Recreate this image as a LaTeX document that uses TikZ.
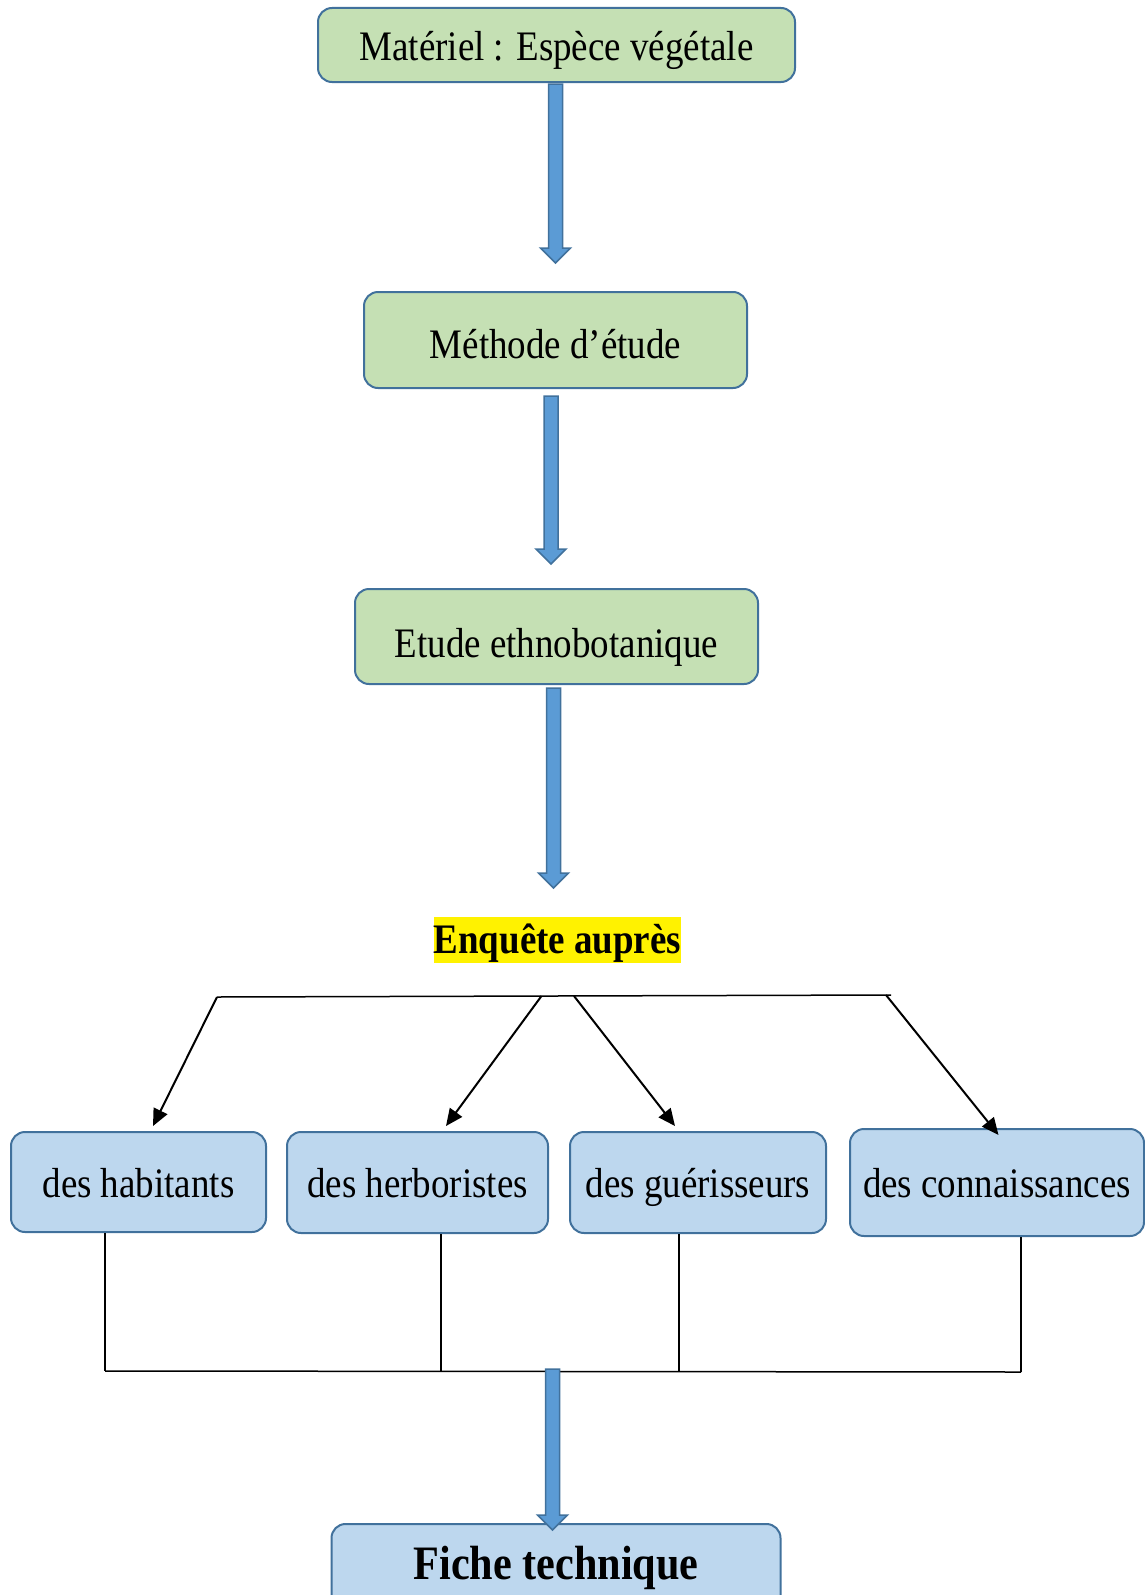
\documentclass[tikz,border=0pt]{standalone}
\usepackage{fontspec}
\setmainfont{Liberation Serif}[FakeStretch=0.88]
\usetikzlibrary{arrows.meta,calc}
\definecolor{boxgreen}{HTML}{C5E0B4}
\definecolor{boxblue}{HTML}{BDD7EE}
\definecolor{edgeblue}{HTML}{41719C}
\definecolor{arrowblue}{HTML}{5B9BD5}
\tikzset{
  box/.style={draw=edgeblue, line width=2pt, rounded corners=14pt, inner sep=0pt,
    text height=30pt, text depth=0pt, font=\fontsize{42}{50}\selectfont},
  greenbox/.style={box, fill=boxgreen},
  bluebox/.style={box, fill=boxblue},
  bigarrow/.style={fill=arrowblue, draw=edgeblue, line width=1.5pt},
  link/.style={line width=1.5pt},
  pointer/.style={line width=2pt, -{Triangle[length=17pt,width=15pt]}}
}
\newcommand{\blockarrow}[2]{%
  \path[bigarrow] let \p1=(#1), \p2=(#2) in
    (\x1-7pt,\y1) -- (\x1+7pt,\y1) -- (\x1+7pt,\y2+15pt) -- (\x1+15pt,\y2+15pt)
    -- (\x1,\y2) -- (\x1-15pt,\y2+15pt) -- (\x1-7pt,\y2+15pt) -- cycle;}
\begin{document}
\begin{tikzpicture}[x=1pt,y=-1pt]
  \clip (0,0) rectangle (1145,1595);
  \node[greenbox, minimum width=477pt, minimum height=74pt] (mat) at (556.5,45) {Matériel : Espèce végétale};
  \node[greenbox, minimum width=383pt, minimum height=96pt, text height=36pt] (meth) at (555.5,340) {Méthode d’étude};
  \node[greenbox, minimum width=403pt, minimum height=95pt, text height=41pt] (ethno) at (556.5,636.5) {Etude ethnobotanique};
  \node[fill=yellow, inner sep=0pt, text height=36pt, text depth=10pt,
    font=\fontsize{42}{50}\selectfont\bfseries] (enq) at (557.5,940) {Enquête auprès};

  \node[bluebox, minimum width=255pt, minimum height=100pt] (hab) at (138.5,1182) {des habitants};
  \node[bluebox, minimum width=261pt, minimum height=101pt] (herb) at (417.5,1182.5) {des herboristes};
  \node[bluebox, minimum width=256pt, minimum height=101pt] (guer) at (698,1182.5) {des guérisseurs};
  \node[bluebox, minimum width=294pt, minimum height=107pt] (conn) at (997,1182.5) {des connaissances};
  \node[bluebox, anchor=north, minimum width=449pt, text height=55pt, text depth=60pt,
    font=\fontsize{48}{56}\selectfont\bfseries] (fiche) at (556,1523) {Fiche technique};

  \coordinate (a1) at (555.5,84);
  \coordinate (a1t) at (555.5,263);
  \coordinate (a2) at (551,396);
  \coordinate (a2t) at (551,564);
  \coordinate (a3) at (553.5,688);
  \coordinate (a3t) at (553.5,888);
  \coordinate (a4) at (552.5,1369);
  \coordinate (a4t) at (552.5,1530);

  \coordinate (t1) at (217,997);
  \coordinate (t2) at (541.5,996);
  \coordinate (t3) at (574,996);
  \coordinate (t4) at (886,995);
  \coordinate (tr) at (891,995);
  \coordinate (h1) at (153,1126);
  \coordinate (h2) at (446,1126);
  \coordinate (h3) at (675,1126);
  \coordinate (h4) at (998.5,1135);

  \coordinate (b1) at (105,1371);
  \coordinate (b2) at (441,1371);
  \coordinate (b3) at (679,1371);
  \coordinate (b4) at (1021,1372);

  \draw[link] (t1) -- (tr);
  \draw[pointer] (t1) -- (h1);
  \draw[pointer] (t2) -- (h2);
  \draw[pointer] (t3) -- (h3);
  \draw[pointer] (t4) -- (h4);

  \draw[link] (b1) -- (b4);
  \draw[link] (hab.south -| b1) -- (b1);
  \draw[link] (herb.south -| b2) -- (b2);
  \draw[link] (guer.south -| b3) -- (b3);
  \draw[link] (conn.south -| b4) -- (b4);

  \blockarrow{a1}{a1t}
  \blockarrow{a2}{a2t}
  \blockarrow{a3}{a3t}
  \blockarrow{a4}{a4t}
\end{tikzpicture}
\end{document}
